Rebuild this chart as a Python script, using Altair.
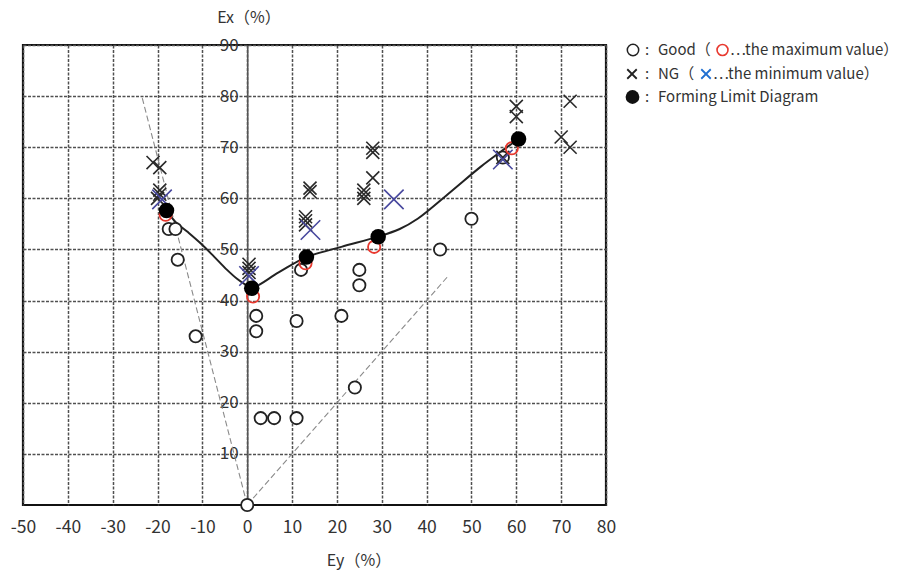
import altair as alt
import pandas as pd

# ---------------- data ----------------
good_ey = [-17.5, -16, -15.5, -11.5, 2, 2, 11, 21, 25, 25, 12, 24, 3, 6, 11, 0, 50, 43, 57]
good_ex = [54, 54, 48, 33, 37, 34, 36, 37, 46, 43, 46, 23, 17, 17, 17, 0, 56, 50, 68]

max_ey = [-18.2, 1.3, 13, 28.3, 59]
max_ex = [56.8, 40.8, 47.3, 50.5, 69.8]

ng_ey = [-21, -19.5, -20, -19.5, -19.5, 0.4, 0.4, 0.4, 13, 13, 13, 14, 14,
         26, 26, 26, 28, 28, 28, 60, 60, 72, 70, 72, 57]
ng_ex = [67, 66, 60, 60.8, 61.6, 45.5, 46.3, 47.1, 54.8, 55.6, 56.4, 62, 61.3,
         60, 60.8, 61.6, 64, 69, 69.8, 76, 78, 79, 72, 70, 68]

min_ey = [-19, 0.4, 14.1, 32.7, 57]
min_ex = [59.8, 44.8, 53.8, 59.8, 67.6]

fld_ey = [-18, 1, 13.2, 29.2, 60.5]
fld_ex = [57.6, 42.4, 48.5, 52.5, 71.6]

curve_ey = [-18, -16, -13.4, -10.4, -7.4, -4.5, -2.2, -0.4, 1, 7, 13.2, 21, 29.2, 34, 38, 45.4, 52.1, 56.5, 60.5]
curve_ex = [57.6, 55.4, 53.5, 51.2, 48.6, 46, 44.2, 43.1, 42.5, 45.5, 48.5, 50.5, 52.5, 54, 56, 61.3, 66.2, 69.1, 71.6]

guide_name = ["left", "left", "right", "right"]
guide_ey = [0, -23.4, 0, 45]
guide_ex = [0, 79.6, 0, 45]

x_ticks = [-50, -40, -30, -20, -10, 0, 10, 20, 30, 40, 50, 60, 70, 80]
y_ticks = [10, 20, 30, 40, 50, 60, 70, 80, 90]

x_title = "Ey（%）"
y_title = "Ex（%）"
legend_texts = [":", "Good（", "⋯the maximum value）",
                ":", "NG（", "⋯the minimum value）",
                ":", "Forming Limit Diagram"]

# ---------------- layout / style ----------------
W, H = 583, 460
FONT = "Noto Sans CJK KR"
TXT = "#333333"
XSHAPE = "M-1,-1L1,1M1,-1L-1,1"

xs = alt.Scale(domain=[-50, 80], nice=False, zero=False)
ys = alt.Scale(domain=[0, 90], nice=False, zero=False)

x_axis = alt.Axis(values=x_ticks, title=None, grid=True, gridDash=[3, 1.5],
                  gridColor="#505050", gridWidth=1.5, tickSize=0, domain=False,
                  labelOverlap=False, labelFlush=False, labelPadding=13, labelFontSize=17.5,
                  labelExpr="datum.value + ''",
                  labelColor=TXT, labelFont=FONT)
y_axis = alt.Axis(values=y_ticks, title=None, grid=True, gridDash=[3, 1.5],
                  gridColor="#505050", gridWidth=1.5, tickSize=0, domain=True,
                  domainColor="#555555", domainWidth=1.6, offset=-W * 50 / 130,
                  labelOverlap=False, labelFlush=False, labelPadding=9, labelFontSize=17,
                  labelColor=TXT, labelFont=FONT)


def pts(ey, ex):
    return pd.DataFrame({"Ey": ey, "Ex": ex})


X = alt.X("Ey:Q", scale=xs, axis=x_axis)
Y = alt.Y("Ex:Q", scale=ys, axis=y_axis)

guides = alt.Chart(pd.DataFrame({"g": guide_name, "Ey": guide_ey, "Ex": guide_ex})).mark_line(
    color="#8a8a8a", strokeWidth=1.1, strokeDash=[6, 3]
).encode(x=X, y=Y, detail="g:N")

curve = alt.Chart(pd.DataFrame({"Ey": curve_ey, "Ex": curve_ex, "o": range(len(curve_ey))})).mark_line(
    color="#222222", strokeWidth=2, interpolate="catmull-rom"
).encode(x=X, y=Y, order="o:Q")

good = alt.Chart(pts(good_ey, good_ex)).mark_point(
    shape="circle", filled=False, fill="white", fillOpacity=1, stroke="#222222",
    strokeWidth=1.8, size=150, opacity=1
).encode(x=X, y=Y)

ng = alt.Chart(pts(ng_ey, ng_ex)).mark_point(
    shape=XSHAPE, filled=False, stroke="#2a2a2a", strokeWidth=1.6, size=170, opacity=1
).encode(x=X, y=Y)

mn = alt.Chart(pts(min_ey, min_ex)).mark_point(
    shape=XSHAPE, filled=False, stroke="#48489e", strokeWidth=1.6, size=380, opacity=1
).encode(x=X, y=Y)

mx = alt.Chart(pts(max_ey, max_ex)).mark_point(
    shape="circle", filled=False, stroke="#e8392f", strokeWidth=1.8, size=150, opacity=1
).encode(x=X, y=Y)

fld = alt.Chart(pts(fld_ey, fld_ex)).mark_point(
    shape="circle", filled=True, color="#000000", size=240, opacity=1
).encode(x=X, y=Y)

# ---------------- titles and legend (pixel layout) ----------------
def txt(text, px, py, size=15, align="left", color=TXT):
    return alt.Chart(pd.DataFrame({"t": [text], "px": [px], "py": [py]})).mark_text(
        font=FONT, fontSize=size, align=align, baseline="middle", color=color
    ).encode(x=alt.X("px:Q", scale=None), y=alt.Y("py:Q", scale=None), text="t:N")


def sym(px, py, shape, size, stroke=None, fill=None, sw=1.6):
    kw = dict(shape=shape, size=size, opacity=1)
    if fill:
        kw.update(filled=True, color=fill)
    else:
        kw.update(filled=False, stroke=stroke, strokeWidth=sw)
    return alt.Chart(pd.DataFrame({"px": [px], "py": [py]})).mark_point(**kw).encode(
        x=alt.X("px:Q", scale=None), y=alt.Y("py:Q", scale=None))


L0 = 24  # plot left on page
T0 = 45  # plot top on page
r1, r2, r3 = 50 - T0, 74 - T0, 97 - T0

annot = [
    txt(y_title, 250 - L0, 18 - T0, size=16, align="center"),
    txt(x_title, 360 - L0, 561 - T0, size=16, align="center"),
    sym(634 - L0, r1, "circle", 130, stroke="#222222", sw=1.5),
    txt(legend_texts[0], 648 - L0, r1, align="center"),
    txt(legend_texts[1], 659 - L0, r1),
    sym(723.5 - L0, r1, "circle", 120, stroke="#e8392f", sw=1.6),
    txt(legend_texts[2], 731 - L0, r1),
    sym(633 - L0, r2, XSHAPE, 90, stroke="#222222", sw=1.8),
    txt(legend_texts[3], 648 - L0, r2, align="center"),
    txt(legend_texts[4], 659 - L0, r2),
    sym(707 - L0, r2, XSHAPE, 90, stroke="#1f6fd1", sw=1.8),
    txt(legend_texts[5], 714 - L0, r2),
    sym(633.5 - L0, r3, "circle", 190, fill="#111111"),
    txt(legend_texts[6], 648 - L0, r3, align="center"),
    txt(legend_texts[7], 659 - L0, r3),
]

chart = alt.layer(guides, curve, good, ng, mn, mx, fld, *annot).properties(
    width=W, height=H, background="white",
    padding={"left": 2, "top": 2, "right": 0, "bottom": 3}
).configure_view(stroke="#111111", strokeWidth=2.2)

chart.save("out.html", embed_options={"renderer": "svg", "actions": False})
